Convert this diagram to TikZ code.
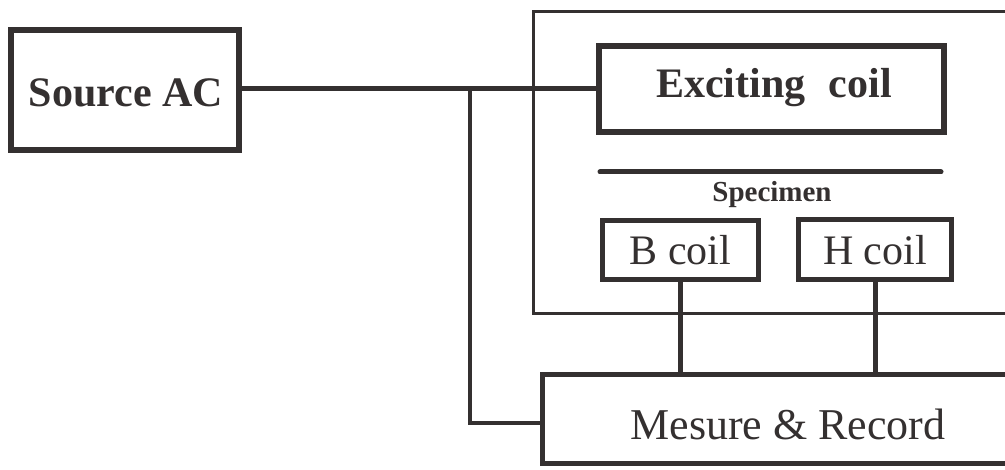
\documentclass[tikz,border=0pt]{standalone}
\usepackage{fontspec}
\setmainfont{Liberation Serif}
\definecolor{ink}{RGB}{52,48,48}
\tikzset{
  x=1pt, y=-1pt,
  thickbox/.style={draw=ink, line width=6pt, rectangle, inner sep=0pt, text=ink},
  midbox/.style={draw=ink, line width=5pt, rectangle, inner sep=0pt, text=ink},
  framebox/.style={draw=ink, line width=3pt, rectangle, inner sep=0pt},
  wire/.style={draw=ink, line width=5pt},
  bigtxt/.style={text=ink, font=\fontsize{44}{48}\selectfont},
}
\begin{document}
\begin{tikzpicture}
\useasboundingbox[fill=white] (0,0) rectangle (1005,470);
\clip (0,0) rectangle (1005,470);
% outer frame
\node[framebox, minimum width=506.5pt, minimum height=302pt] (frame) at (786.75,162.5) {};
% boxes
\node[thickbox, minimum width=228pt, minimum height=120pt] (src) at (125,90) {};
\node[text=ink, font=\bfseries\fontsize{42}{48}\selectfont] (srct) at (126,93) {Source AC};
\node[thickbox, minimum width=345pt, minimum height=86pt] (exc) at (771.5,89) {};
\node[text=ink, font=\bfseries\fontsize{42}{48}\selectfont] (exct) at (774,88) {Exciting\hspace{0.55em}coil};
\node[midbox, minimum width=156pt, minimum height=59pt, font=\fontsize{42}{48}\selectfont] (bc) at (680.5,250) {B coil};
\node[midbox, minimum width=153pt, minimum height=60pt, font=\fontsize{42}{48}\selectfont] (hc) at (875,250) {H coil};
\node[midbox, minimum width=497.5pt, minimum height=89pt] (mr) at (791,419) {};
\node[bigtxt] (mrt) at (788,424) {Mesure \& Record};
% specimen
\coordinate (spA) at (600,172);
\coordinate (spB) at (941,172);
\draw[draw=ink, line width=5pt, line cap=round] (spA) -- (spB);
\node[text=ink, font=\bfseries\fontsize{29}{32}\selectfont] (spt) at (772,195) {Specimen};
% wires
\draw[wire] (src.east |- exc.west) -- (exc.west);
\coordinate (j) at (470,89);
\coordinate (mrin) at (mr.west |- 0,423);
\draw[wire, line width=4.5pt] (j) |- (mrin);
\draw[wire] (bc.south) -- (bc.south |- mr.north);
\draw[wire] (hc.south) -- (hc.south |- mr.north);
\end{tikzpicture}
\end{document}
